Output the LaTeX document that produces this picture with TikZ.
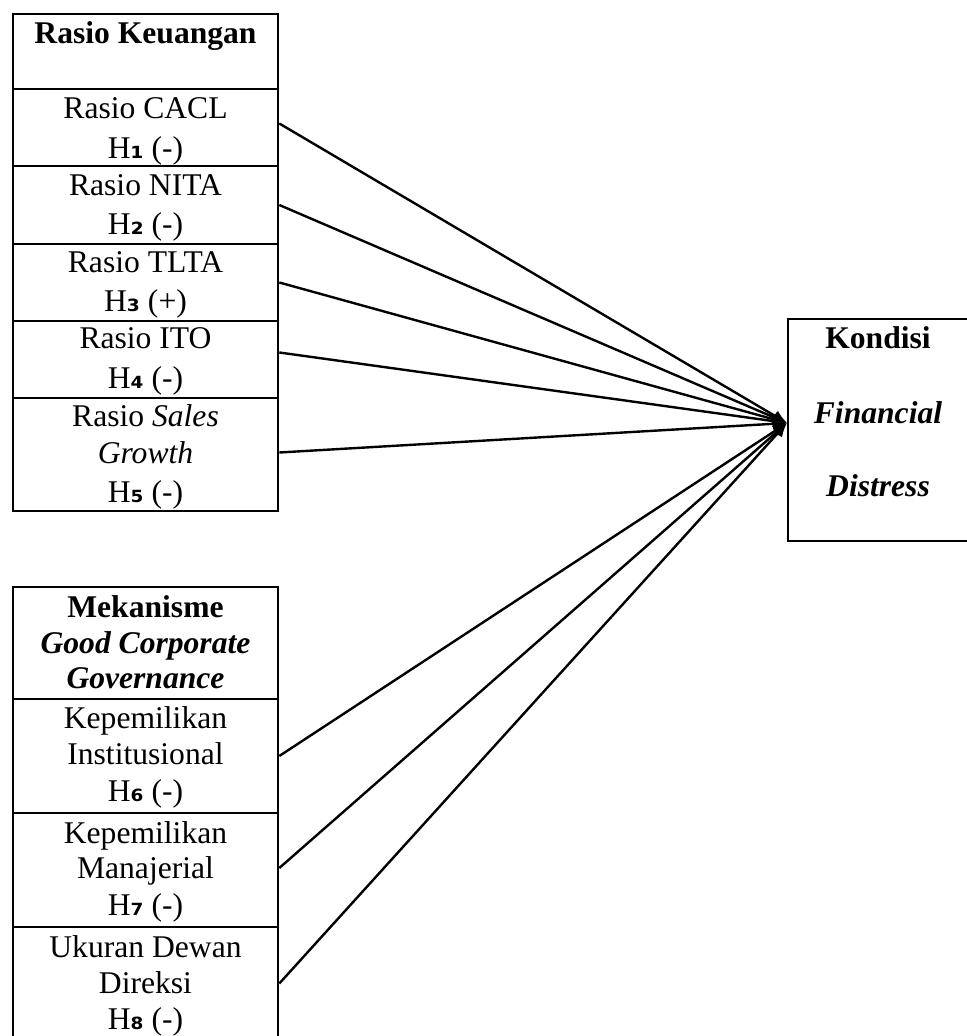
\documentclass[tikz,border=0pt]{standalone}
\usepackage{fontspec}
\setmainfont{Liberation Serif}
\newfontfamily\subf{DejaVu Sans}
\usetikzlibrary{fit,arrows.meta}
\newcommand{\Hs}[1]{H{\subf\bfseries\fontsize{15pt}{19pt}\selectfont #1}}
\begin{document}
\begin{tikzpicture}[x=0.5pt,y=-0.5pt,
  cell/.style={draw,line width=1.3pt,inner sep=0pt,rectangle},
  txt/.style={anchor=base,inner sep=0pt,font=\fontsize{15.8pt}{19pt}\selectfont},
  link/.style={line width=1.2pt,-{Latex[length=7pt,width=6pt]}}]
\useasboundingbox (0,0) rectangle (966,1036);
% Box 1
\node[cell,fit={(13,14)(278,89)}] (k0) {};
\node[cell,fit={(13,89)(278,166)}] (k1) {};
\node[cell,fit={(13,166)(278,244)}] (k2) {};
\node[cell,fit={(13,244)(278,321)}] (k3) {};
\node[cell,fit={(13,321)(278,398)}] (k4) {};
\node[cell,fit={(13,398)(278,511)}] (k5) {};
% Box 2
\node[cell,fit={(13,587)(278,699)}] (g0) {};
\node[cell,fit={(13,699)(278,813)}] (g1) {};
\node[cell,fit={(13,813)(278,927)}] (g2) {};
\node[cell,fit={(13,927)(278,1040)}] (g3) {};
% Target
\node[cell,fit={(788,319)(995,541)}] (fd) {};
\coordinate (tip) at (787,423);
% Texts box 1
\node[txt] (t0) at (145.5,44) {\textbf{Rasio Keuangan}};
\node[txt] (t1a) at (145.5,119) {Rasio CACL};
\node[txt] (t1b) at (145.5,159) {\Hs{₁} (-)};
\node[txt] (t2a) at (145.5,196) {Rasio NITA};
\node[txt] (t2b) at (145.5,235) {\Hs{₂} (-)};
\node[txt] (t3a) at (145.5,273) {Rasio TLTA};
\node[txt] (t3b) at (145.5,312) {\Hs{₃} (+)};
\node[txt] (t4a) at (145.5,349) {Rasio ITO};
\node[txt] (t4b) at (145.5,389) {\Hs{₄} (-)};
\node[txt] (t5a) at (145.5,427) {Rasio \textit{Sales}};
\node[txt] (t5b) at (145.5,464) {\textit{Growth}};
\node[txt] (t5c) at (145.5,502) {\Hs{₅} (-)};
% Texts box 2
\node[txt] (u0a) at (145.5,617) {\textbf{Mekanisme}};
\node[txt] (u0b) at (145.5,653) {\textbf{\textit{Good Corporate}}};
\node[txt] (u0c) at (145.5,688) {\textbf{\textit{Governance}}};
\node[txt] (u1a) at (145.5,728) {Kepemilikan};
\node[txt] (u1b) at (145.5,764) {Institusional};
\node[txt] (u1c) at (145.5,801) {\Hs{₆} (-)};
\node[txt] (u2a) at (145.5,843) {Kepemilikan};
\node[txt] (u2b) at (145.5,878) {Manajerial};
\node[txt] (u2c) at (145.5,915) {\Hs{₇} (-)};
\node[txt] (u3a) at (145.5,957) {Ukuran Dewan};
\node[txt] (u3b) at (145.5,993) {Direksi};
\node[txt] (u3c) at (145.5,1029) {\Hs{₈} (-)};
% Target texts
\node[txt] (f1) at (878,349) {\textbf{Kondisi}};
\node[txt] (f2) at (878,423) {\textbf{\textit{Financial}}};
\node[txt] (f3) at (878,496) {\textbf{\textit{Distress}}};
% Connectors
\draw[link] ([yshift=2pt]k1.east) -- (tip);
\draw[link] (k2.east) -- (tip);
\draw[link] (k3.east) -- (tip);
\draw[link] ([yshift=3.5pt]k4.east) -- (tip);
\draw[link] ([yshift=1pt]k5.east) -- (tip);
\draw[link] (g1.east) -- (tip);
\draw[link] ([yshift=1pt]g2.east) -- (tip);
\draw[link] ([yshift=0pt]g3.east) -- (tip);
\end{tikzpicture}
\end{document}
